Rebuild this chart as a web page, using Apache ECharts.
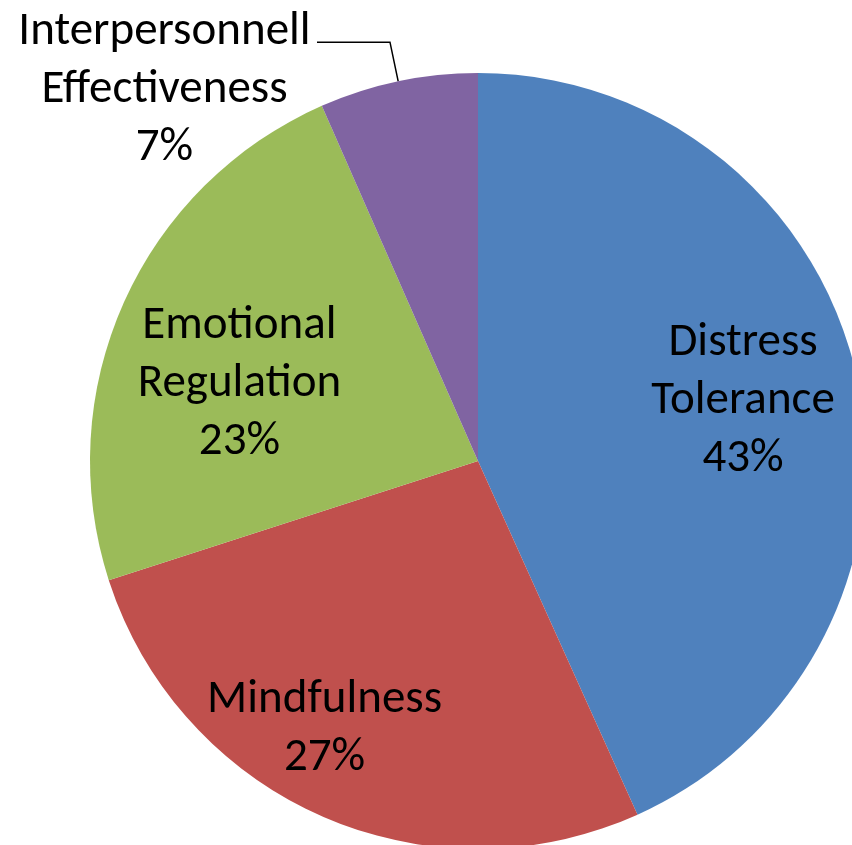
<!DOCTYPE html>
<html>
<head>
<meta charset="utf-8">
<script src="https://cdn.jsdelivr.net/npm/echarts@6/dist/echarts.min.js"></script>
<style>
html,body{margin:0;padding:0;background:#fff;}
#chart{width:852px;height:845px;}
</style>
</head>
<body>
<div id="chart"></div>
<script>
const categories = ['Distress Tolerance', 'Mindfulness', 'Emotional Regulation', 'Interpersonnell Effectiveness'];
const values = [43.3, 26.8, 23.4, 6.6];
const colors = ['#4F81BD', '#C0504D', '#9BBB59', '#8064A2'];

const FONT = 'Carlito, Lato, "Liberation Sans", sans-serif';
const FS = 47;
const LH = 58;
const R = 388;
const CENTER = [478, 461];
const labelNudge = [[-11, 0], [-39, 10], [19, 39], [0, 0]];

const chart = echarts.init(document.getElementById('chart'), null, {renderer: 'canvas'});

const baseData = categories.map((c, i) => ({name: c, value: values[i], itemStyle: {color: colors[i]}}));
const labelData = categories.map((c, i) => {
  const item = {name: c, value: values[i]};
  if (i === 3) {
    item.label = {
      position: 'outside',
      padding: [96, 0, 0, 0],
      formatter: p => p.name.split(' ').concat([p.percent + '%']).map(s => '{c|' + s + '}').join('\n'),
      rich: {c: {width: 295, align: 'center', fontSize: FS, lineHeight: LH, fontFamily: FONT, color: '#000'}}
    };
    item.labelLine = {show: true, length: 40, length2: 73, lineStyle: {color: '#000', width: 1.5}};
  }
  return item;
});

chart.setOption({
  animation: false,
  backgroundColor: '#fff',
  series: [
    {
      type: 'pie',
      center: CENTER,
      radius: [0, R],
      startAngle: 90,
      clockwise: true,
      silent: true,
      label: {show: false},
      labelLine: {show: false},
      itemStyle: {borderWidth: 0},
      emphasis: {disabled: true},
      data: baseData
    },
    {
      type: 'pie',
      center: CENTER,
      radius: [R * 0.44, R],
      startAngle: 90,
      clockwise: true,
      silent: true,
      avoidLabelOverlap: false,
      percentPrecision: 0,
      itemStyle: {color: 'rgba(0,0,0,0)', borderWidth: 0},
      emphasis: {disabled: true},
      label: {
        show: true,
        position: 'inside',
        formatter: p => p.name.split(' ').join('\n') + '\n' + p.percent + '%',
        fontFamily: FONT,
        fontSize: FS,
        lineHeight: LH,
        color: '#000',
        align: 'center'
      },
      labelLine: {show: false},
      labelLayout: params => {
        const n = labelNudge[params.dataIndex] || [0, 0];
        return {dx: n[0], dy: n[1]};
      },
      data: labelData
    }
  ]
});
</script>
</body>
</html>
